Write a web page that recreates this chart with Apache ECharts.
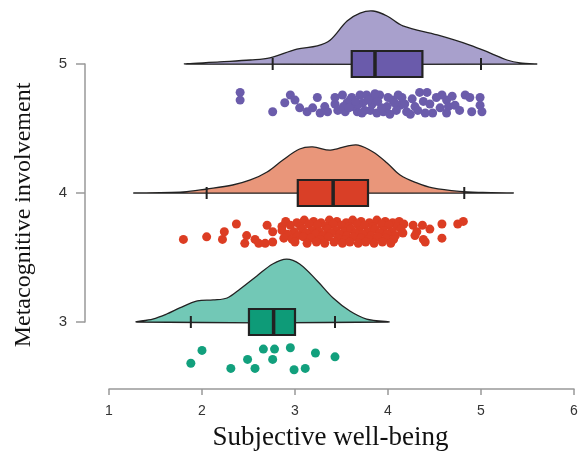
<!DOCTYPE html>
<html>
<head>
<meta charset="utf-8">
<script src="https://cdn.jsdelivr.net/npm/echarts@6/dist/echarts.min.js"></script>
<style>
html, body { margin: 0; padding: 0; background: #fff; }
#main { width: 578px; height: 451px; }
</style>
</head>
<body>
<div id="main"></div>
<script>
// ---------------------------------------------- 数据
var groups = [5, 4, 3];

// density outline (x value, height in y units)
var densX5 = [1.83, 2.19, 2.52, 2.73, 3.02, 3.24, 3.38, 3.56, 3.70, 3.84, 3.99, 4.16, 4.53, 4.88, 5.10, 5.28, 5.42, 5.59];
var densH5 = [0, 0.016, 0.031, 0.047, 0.116, 0.140, 0.186, 0.333, 0.395, 0.411, 0.372, 0.295, 0.225, 0.147, 0.085, 0.031, 0.008, 0];
var densX4 = [1.29, 1.80, 2.05, 2.33, 2.52, 2.70, 2.87, 3.05, 3.19, 3.38, 3.56, 3.68, 3.84, 3.99, 4.13, 4.31, 4.48, 4.77, 5.02, 5.33];
var densH4 = [0, 0.008, 0.031, 0.062, 0.101, 0.163, 0.256, 0.341, 0.357, 0.333, 0.364, 0.372, 0.318, 0.233, 0.140, 0.078, 0.039, 0.012, 0.004, 0];
var densX3 = [1.30, 1.47, 1.62, 1.76, 1.95, 2.12, 2.27, 2.41, 2.59, 2.76, 2.91, 3.05, 3.24, 3.41, 3.59, 3.77, 4.00];
var densH3 = [0, 0.023, 0.062, 0.109, 0.163, 0.171, 0.186, 0.256, 0.357, 0.450, 0.488, 0.450, 0.318, 0.186, 0.085, 0.023, 0];

// box plot stats, order 5, 4, 3
var whiskerLo = [2.76, 2.05, 1.88];
var q1 = [3.61, 3.03, 2.505];
var median = [3.86, 3.41, 2.77];
var q3 = [4.37, 3.785, 3.00];
var whiskerHi = [5.00, 4.82, 3.43];

// raw points [subjective well-being, jittered position]
var pts5 = [
    [2.41, 4.78], [2.41, 4.72], [2.76, 4.63], [2.89, 4.70], [2.95, 4.76], [3.00, 4.72], [3.13, 4.63], [3.19, 4.66],
    [3.24, 4.74], [3.32, 4.67], [3.43, 4.69], [3.51, 4.76], [3.56, 4.70], [3.61, 4.74], [3.67, 4.63], [3.70, 4.76],
    [3.77, 4.76], [3.84, 4.74], [3.91, 4.76], [3.62, 4.67], [3.73, 4.70], [3.81, 4.64], [3.88, 4.62], [3.99, 4.67],
    [4.05, 4.72], [4.13, 4.68], [4.20, 4.63], [4.29, 4.67], [4.34, 4.78], [4.42, 4.78], [4.38, 4.71], [4.48, 4.62],
    [4.58, 4.76], [4.63, 4.72], [4.65, 4.67], [4.63, 4.62], [4.83, 4.76], [4.88, 4.74], [4.99, 4.74], [4.99, 4.68],
    [4.90, 4.63], [5.01, 4.63], [3.46, 4.64], [3.54, 4.63], [3.59, 4.72], [3.68, 4.69], [3.75, 4.64], [3.83, 4.69],
    [3.89, 4.71], [3.95, 4.63], [4.00, 4.74], [4.09, 4.64], [4.15, 4.74], [4.18, 4.69], [4.26, 4.73], [4.32, 4.64],
    [4.45, 4.69], [4.52, 4.74], [4.72, 4.68], [4.77, 4.64], [3.35, 4.63], [3.43, 4.74], [3.52, 4.67], [3.72, 4.62],
    [4.02, 4.61], [4.11, 4.76], [4.24, 4.61], [4.40, 4.62], [4.56, 4.66], [4.69, 4.75], [3.05, 4.66], [3.27, 4.62],
    [3.65, 4.71], [3.79, 4.72], [3.93, 4.66], [4.07, 4.70], [3.86, 4.77], [3.58, 4.66]
];
var pts4 = [
    [1.80, 3.64], [2.05, 3.66], [2.22, 3.64], [2.24, 3.70], [2.37, 3.76], [2.48, 3.67], [2.46, 3.61], [2.57, 3.64],
    [2.61, 3.61], [2.70, 3.75], [2.68, 3.61], [2.76, 3.70], [2.76, 3.62], [2.86, 3.74],
    [4.27, 3.75], [4.31, 3.70], [4.38, 3.64], [4.45, 3.72], [4.58, 3.76], [4.58, 3.65], [4.75, 3.76], [4.81, 3.78],
    [4.29, 3.67], [4.40, 3.62], [4.37, 3.75],
    [2.90, 3.78], [3.02, 3.77], [3.10, 3.79], [3.20, 3.78], [3.28, 3.77], [3.37, 3.79], [3.45, 3.78], [3.55, 3.77],
    [3.62, 3.79], [3.71, 3.78], [3.80, 3.77], [3.88, 3.79], [3.97, 3.78], [4.05, 3.77], [4.12, 3.78],
    [2.95, 3.75], [3.06, 3.74], [3.15, 3.76], [3.24, 3.75], [3.33, 3.74], [3.41, 3.76], [3.50, 3.75], [3.58, 3.74],
    [3.67, 3.76], [3.75, 3.75], [3.84, 3.74], [3.93, 3.76], [4.01, 3.75], [4.10, 3.74], [4.17, 3.76],
    [2.86, 3.71], [2.99, 3.70], [3.08, 3.72], [3.18, 3.71], [3.26, 3.70], [3.35, 3.72], [3.44, 3.71], [3.53, 3.70],
    [3.60, 3.72], [3.69, 3.71], [3.78, 3.70], [3.86, 3.72], [3.95, 3.71], [4.04, 3.70], [4.14, 3.72],
    [2.92, 3.68], [3.03, 3.67], [3.12, 3.69], [3.22, 3.68], [3.30, 3.67], [3.39, 3.69], [3.48, 3.68], [3.56, 3.67],
    [3.65, 3.69], [3.73, 3.68], [3.82, 3.67], [3.91, 3.69], [3.99, 3.68], [4.08, 3.67], [4.16, 3.69],
    [2.88, 3.65], [2.97, 3.64], [3.09, 3.66], [3.17, 3.65], [3.27, 3.64], [3.36, 3.66], [3.46, 3.65], [3.54, 3.64],
    [3.63, 3.66], [3.71, 3.65], [3.79, 3.64], [3.89, 3.66], [3.98, 3.65], [4.06, 3.64],
    [3.00, 3.62], [3.13, 3.61], [3.23, 3.62], [3.32, 3.61], [3.42, 3.62], [3.51, 3.61], [3.59, 3.62], [3.68, 3.61],
    [3.76, 3.62], [3.85, 3.61], [3.94, 3.62], [4.03, 3.61]
];
var pts3 = [
    [1.88, 2.68], [2.00, 2.78], [2.31, 2.64], [2.49, 2.71], [2.57, 2.64], [2.66, 2.79], [2.76, 2.71],
    [2.78, 2.79], [2.95, 2.80], [2.99, 2.63], [3.11, 2.64], [3.22, 2.76], [3.43, 2.73]
];

var cloudColor = ['#a8a0cc', '#e9967a', '#72c8b6'];
var boxColor = ['#6a5bab', '#d93f27', '#0e9b78'];
var dotColor = ['#6b5cab', '#dc3d23', '#12a07d'];

var dens = [[densX5, densH5], [densX4, densH4], [densX3, densH3]];
var pts = [pts5, pts4, pts3];

// ---------------------------------------------- 云 + 箱线
function rain(gi) {
    return function (params, api) {
        var g = groups[gi];
        var xs = dens[gi][0], hs = dens[gi][1];
        var poly = [];
        for (var i = 0; i < xs.length; i++) {
            poly.push(api.coord([xs[i], g + hs[i]]));
        }
        var lo = api.coord([whiskerLo[gi], g]);
        var hi = api.coord([whiskerHi[gi], g]);
        var a = api.coord([q1[gi], g]);
        var b = api.coord([q3[gi], g]);
        var m = api.coord([median[gi], g]);
        var y0 = a[1];
        return {
            type: 'group',
            children: [
                { type: 'polygon', shape: { points: poly, smooth: 0.35 },
                  style: { fill: cloudColor[gi], stroke: '#222', lineWidth: 1.3 } },
                { type: 'line', shape: { x1: lo[0], y1: y0 - 6, x2: lo[0], y2: y0 + 6 },
                  style: { stroke: '#222', lineWidth: 2 } },
                { type: 'line', shape: { x1: hi[0], y1: y0 - 6, x2: hi[0], y2: y0 + 6 },
                  style: { stroke: '#222', lineWidth: 2 } },
                { type: 'rect', shape: { x: a[0], y: y0 - 13, width: b[0] - a[0], height: 26 },
                  style: { fill: boxColor[gi], stroke: '#222', lineWidth: 2.2 } },
                { type: 'line', shape: { x1: m[0], y1: y0 - 13, x2: m[0], y2: y0 + 13 },
                  style: { stroke: '#222', lineWidth: 3.5 } }
            ]
        };
    };
}

var series = [];
for (var k = 0; k < groups.length; k++) {
    series.push({
        type: 'custom',
        renderItem: rain(k),
        data: [[median[k], groups[k]]],
        clip: false,
        silent: true,
        z: 2
    });
    series.push({
        type: 'scatter',
        data: pts[k],
        symbolSize: 9,
        clip: false,
        itemStyle: { color: dotColor[k], opacity: 1 },
        z: 3
    });
}

var myChart = echarts.init(document.getElementById('main'));
var option = {
    animation: false,
    grid: {
        left: 109,
        right: 4,
        top: 64,
        bottom: 129,
        outerBoundsMode: 'none'
    },
    xAxis: {
        type: 'value',
        min: 1,
        max: 6,
        interval: 1,
        offset: 67,
        name: 'Subjective well-being',
        nameLocation: 'middle',
        nameGap: 35,
        nameTextStyle: { fontFamily: 'Liberation Serif', fontSize: 27, color: '#111', padding: [0, 22, 0, 0] },
        axisLine: { lineStyle: { color: '#999', width: 1.5 } },
        axisTick: { length: 6, lineStyle: { color: '#999', width: 1.5 } },
        axisLabel: { color: '#333', fontSize: 14, fontFamily: 'Liberation Sans', margin: 15 },
        splitLine: { show: false }
    },
    yAxis: {
        type: 'value',
        min: 3,
        max: 5,
        interval: 1,
        offset: 24,
        name: 'Metacognitive involvement',
        nameLocation: 'middle',
        nameGap: 49,
        nameTextStyle: { fontFamily: 'Liberation Serif', fontSize: 24, color: '#111', padding: [0, 44, 0, 0] },
        axisLine: { show: true, lineStyle: { color: '#999', width: 1.5 } },
        axisTick: { show: true, length: 9, lineStyle: { color: '#999', width: 1.5 } },
        axisLabel: { color: '#333', fontSize: 15, fontFamily: 'Liberation Sans', margin: 18, padding: [4, 0, 0, 0] },
        splitLine: { show: false }
    },
    series: series
};
myChart.setOption(option);
</script>
</body>
</html>
